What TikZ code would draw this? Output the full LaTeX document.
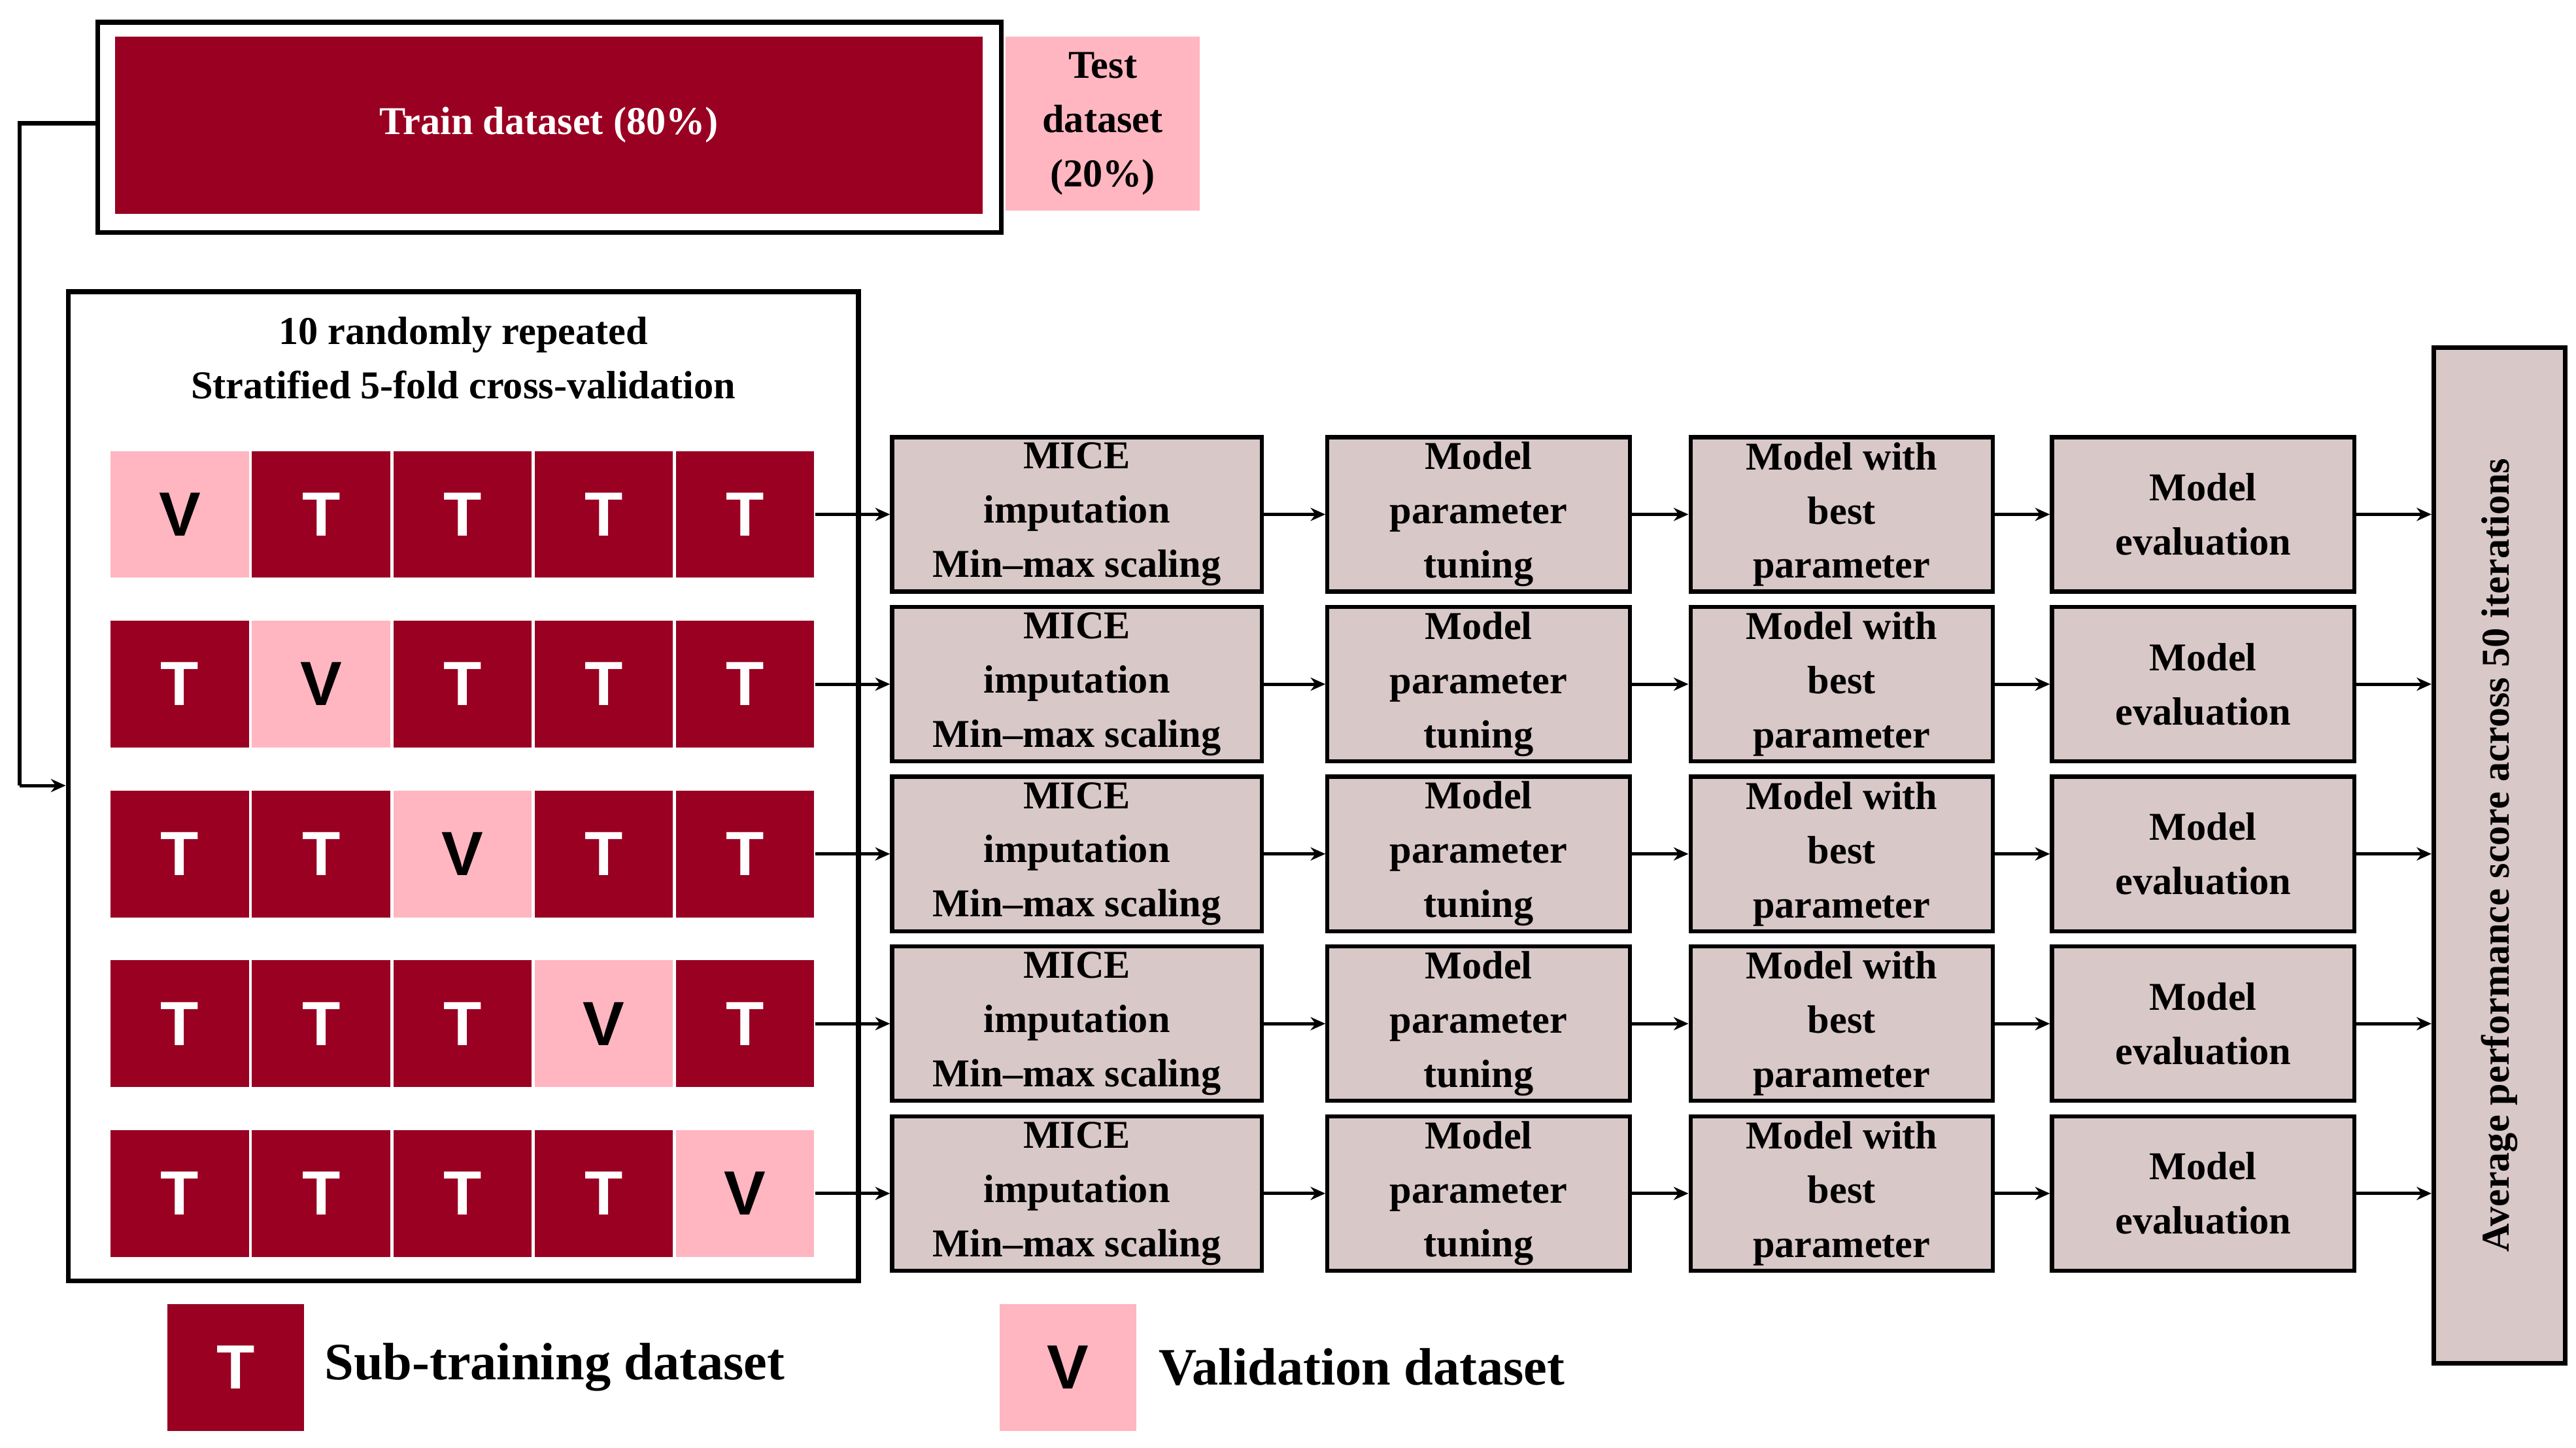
\documentclass[tikz,border=0pt]{standalone}
\usepackage{fontspec}
\setmainfont{Liberation Serif}
\newfontfamily\letf{Liberation Sans}
\usetikzlibrary{arrows.meta}
\definecolor{dred}{HTML}{990022}
\definecolor{lpink}{HTML}{FFB6C1}
\definecolor{gbox}{HTML}{D9C8C8}
\begin{document}
\begin{tikzpicture}[x=1pt,y=-1pt,
  txt/.style={font=\bfseries\fontsize{24}{33}\selectfont,align=center},
  cell/.style={minimum width=85pt,minimum height=78pt,inner sep=0pt,draw=white,line width=0.8pt,font=\letf\bfseries\fontsize{38}{40}\selectfont},
  T/.style={cell,fill=dred,text=white},
  V/.style={cell,fill=lpink,text=black},
  gb/.style={draw=black,line width=2.5pt,fill=gbox,minimum height=94pt,inner sep=0pt,txt},
  arr/.style={-{Stealth[length=9pt,width=8pt]},line width=2pt}]
\useasboundingbox (0,0) rectangle (1568,881);
% train / test
\node[draw=black,line width=3pt,minimum width=550pt,minimum height=128pt,anchor=north west,inner sep=0pt] (trainout) at (58,12) {};
\node[fill=dred,minimum width=528pt,minimum height=108pt,anchor=north west,inner sep=0pt,txt,text=white] (train) at (70,22) {Train dataset (80\%)};
\node[fill=lpink,minimum width=118pt,minimum height=106pt,anchor=north west,inner sep=0pt,txt] (test) at (612,22) {Test\\dataset\\(20\%)};
% CV box
\node[draw=black,line width=3pt,minimum width=481pt,minimum height=602pt,anchor=north west,inner sep=0pt] (cv) at (40,176) {};
\node[txt] (cvt) at (282,218) {10 randomly repeated\\Stratified 5-fold cross-validation};
\coordinate (c1) at (12,75);
\coordinate (c2) at (12,478);
\draw[line width=2.5pt] (trainout.west |- c1) -- (c1) -- (c2);
\draw[arr] (c2) -- (cv.west |- c2);
\foreach \r/\a/\b/\c/\d/\e in {1/V/T/T/T/T,2/T/V/T/T/T,3/T/T/V/T/T,4/T/T/T/V/T,5/T/T/T/T/V}{
  \pgfmathsetmacro{\yy}{313+(\r-1)*103.3}
  \node[\a] (r\r a) at (109.5,\yy) {\a};
  \node[\b] (r\r b) at (195.5,\yy) {\b};
  \node[\c] (r\r c) at (281.5,\yy) {\c};
  \node[\d] (r\r d) at (367.5,\yy) {\d};
  \node[\e] (r\r e) at (453.5,\yy) {\e};
  \node[gb,minimum width=225pt] (m\r) at (655.5,\yy) {MICE\\imputation\\Min--max scaling};
  \node[gb,minimum width=184pt] (p\r) at (900,\yy) {Model\\parameter\\tuning};
  \node[gb,minimum width=184pt] (b\r) at (1121,\yy) {Model with\\best\\parameter};
  \node[gb,minimum width=184pt] (e\r) at (1341,\yy) {Model\\evaluation};
  \draw[arr] (r\r e.east) -- (m\r.west);
  \draw[arr] (m\r.east) -- (p\r.west);
  \draw[arr] (p\r.east) -- (b\r.west);
  \draw[arr] (b\r.east) -- (e\r.west);
}
\node[draw=black,line width=3pt,fill=gbox,minimum width=80pt,minimum height=618pt,anchor=north west,inner sep=0pt] (avg) at (1480,210) {};
\node[txt,rotate=90] at (avg.center) {Average performance score across 50 iterations};
\foreach \r in {1,...,5}{\draw[arr] (e\r.east) -- (avg.west |- e\r.east);}
% legend
\node[T,minimum width=84pt] (lt) at (143.5,832) {T};
\node[anchor=west,font=\bfseries\fontsize{32}{36}\selectfont] (ltt) at (194,832) {Sub-training dataset};
\node[V,minimum width=84pt] (lv) at (650,832) {V};
\node[anchor=west,font=\bfseries\fontsize{32}{36}\selectfont] (lvt) at (702,832) {Validation dataset};
\end{tikzpicture}
\end{document}
